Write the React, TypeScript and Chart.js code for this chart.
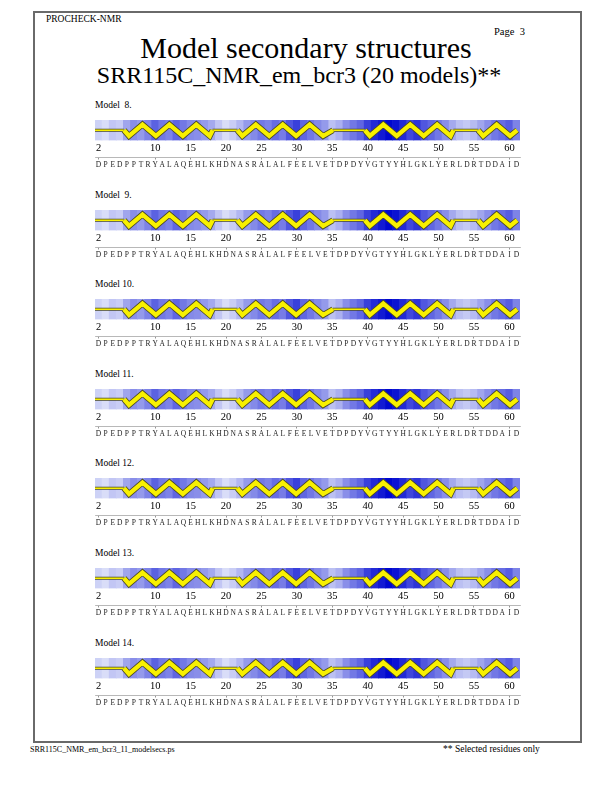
import React, { useEffect, useRef } from "react";
import { Chart, registerables } from "chart.js";

Chart.register(...registerables);

// ---------- data ----------
const modelNumbers = [8, 9, 10, 11, 12, 13, 14];
const firstResidue = 2;
const sequence = "DPEDPPTRYALAQEHLKHDNASRALALFEELVETDPDYVGTYYHLGKLYERLDRTDDAID".split("");
// per-residue shading (0 = light, 1 = dark blue), residues 2..61
const shading = [
  0.10, 0.05, 0.15, 0.12, 0.30, 0.40, 0.35, 0.45, 0.60, 0.50,
  0.45, 0.58, 0.50, 0.42, 0.40, 0.35, 0.28, 0.15, 0.05, 0.12,
  0.22, 0.35, 0.42, 0.50, 0.45, 0.55, 0.48, 0.65, 0.75, 0.58,
  0.50, 0.42, 0.35, 0.18, 0.25, 0.40, 0.50, 0.58, 0.75, 0.85,
  0.92, 1.00, 0.95, 0.85, 0.72, 0.80, 0.65, 0.58, 0.50, 0.40,
  0.28, 0.18, 0.14, 0.20, 0.30, 0.40, 0.50, 0.55, 0.62, 0.45,
];
// helix segments (residue numbers)
const helixStart = [6, 22, 40, 56];
const helixEnd = [18, 35, 52, 61];
const tickLabels = [2, 10, 15, 20, 25, 30, 35, 40, 45, 50, 55, 60];

// ---------- styling constants ----------
const SERIF = "'Liberation Serif', 'Times New Roman', serif";
const STRIP_TOP0 = 120;
const MODEL_STEP = 89.6;
const MID = 0.5, LOW = 0.22, HIGH = 0.78;
const LEAD = 0.7, HALF_TURN = 1.9;
const YELLOW = "#f8f000";
const OUTLINE = "#4a4a26";

const residues = sequence.map((_, i) => firstResidue + i);
const xMin = firstResidue - 0.5;
const xMax = firstResidue + sequence.length - 0.5;

function shadeColor(v: number) {
  const r = Math.round(228 - 228 * v);
  const g = Math.round(232 - 224 * v);
  const b = Math.round(250 - 42 * v);
  return `rgb(${r},${g},${b})`;
}

type Pt = { x: number; y: number | null };

function helixPoints(): Pt[] {
  const pts: Pt[] = [];
  helixStart.forEach((s, k) => {
    const a = s - 0.4;
    const b = helixEnd[k] + 0.1;
    pts.push({ x: a, y: MID });
    let x = a + LEAD;
    let low = true;
    while (x < b - 0.3) {
      pts.push({ x, y: low ? LOW : HIGH });
      low = !low;
      x += HALF_TURN;
    }
    pts.push({ x: b, y: MID });
    pts.push({ x: b + 0.01, y: null });
  });
  return pts;
}

function coilPoints(): Pt[] {
  const pts: Pt[] = [];
  let from = xMin;
  helixStart.forEach((s, k) => {
    const to = s - 0.4;
    if (to - from > 0.3) {
      pts.push({ x: from, y: MID }, { x: to, y: MID }, { x: to + 0.01, y: null });
    }
    from = helixEnd[k] + 0.1;
  });
  if (xMax - from > 0.5) pts.push({ x: from, y: MID }, { x: xMax, y: MID });
  return pts;
}

function lineDs(data: Pt[], color: string, width: number, order: number) {
  return {
    type: "line" as const,
    data,
    borderColor: color,
    borderWidth: width,
    borderJoinStyle: "miter" as const,
    borderCapStyle: "butt" as const,
    pointRadius: 0,
    tension: 0,
    fill: false,
    spanGaps: false,
    order,
    xAxisID: "x",
    yAxisID: "y",
  };
}

function ModelStrip({ top }: { top: number }) {
  const ref = useRef<HTMLCanvasElement>(null);
  useEffect(() => {
    const hp = helixPoints();
    const cp = coilPoints();
    const chart = new Chart(ref.current as HTMLCanvasElement, {
      type: "bar",
      data: {
        datasets: [
          {
            type: "bar",
            data: residues.map((r) => ({ x: r, y: 1 })),
            backgroundColor: shading.map(shadeColor),
            borderWidth: 0,
            barPercentage: 1,
            categoryPercentage: 1,
            order: 10,
            xAxisID: "x",
            yAxisID: "y",
          },
          lineDs(cp, OUTLINE, 3.0, 4),
          lineDs(cp, YELLOW, 1.5, 3),
          lineDs(hp, OUTLINE, 6, 2),
          lineDs(hp, YELLOW, 4.3, 1),
        ] as any,
      },
      options: {
        animation: false,
        responsive: true,
        maintainAspectRatio: false,
        events: [],
        layout: { padding: { left: 95, right: 92, top: 2, bottom: 0 } },
        plugins: {
          legend: { display: false },
          tooltip: { enabled: false },
          title: { display: false },
        },
        scales: {
          x: {
            type: "linear",
            position: "bottom",
            min: xMin,
            max: xMax,
            offset: false,
            weight: 0,
            bounds: "data",
            grid: { display: false, drawTicks: false, tickLength: 0, offset: false },
            border: { display: false },
            ticks: {
              autoSkip: false,
              maxRotation: 0,
              minRotation: 0,
              padding: 1,
              color: "#000",
              font: { family: SERIF, size: 10.5 },
              callback: (v: any) => String(v),
            },
            afterBuildTicks: (s: any) => {
              s.ticks = tickLabels.map((v) => ({ value: v }));
            },
            afterFit: (s: any) => {
              s.height = 16.5;
            },
          },
          xSeq: {
            type: "linear",
            position: "bottom",
            min: xMin,
            max: xMax,
            offset: false,
            weight: 1,
            bounds: "data",
            grid: {
              display: true,
              drawOnChartArea: false,
              drawTicks: true,
              tickLength: 2.5,
              lineWidth: 0.7,
              offset: false,
              color: (ctx: any) =>
                ctx.tick && tickLabels.includes(ctx.tick.value) ? "#666" : "rgba(0,0,0,0)",
            },
            border: { display: true, color: "#9a9a9a", width: 0.7 },
            ticks: {
              autoSkip: false,
              maxRotation: 0,
              minRotation: 0,
              padding: 1,
              color: "#222",
              font: { family: SERIF, size: 7.5 },
              callback: (v: any) => sequence[Number(v) - firstResidue] ?? "",
            },
            afterBuildTicks: (s: any) => {
              s.ticks = residues.map((v) => ({ value: v }));
            },
            afterFit: (s: any) => {
              s.height = 12;
            },
          },
          y: { type: "linear", min: 0, max: 1, display: false },
        },
      } as any,
    });
    return () => chart.destroy();
  }, []);
  return (
    <div style={{ position: "absolute", left: 0, top, width: 612, height: 51 }}>
      <canvas ref={ref} />
    </div>
  );
}

const txt = (size: number): React.CSSProperties => ({
  position: "absolute",
  fontFamily: SERIF,
  fontSize: size,
  lineHeight: `${size}px`,
  whiteSpace: "pre",
  color: "#000",
  margin: 0,
});

export default function App() {
  return (
    <div style={{ position: "absolute", left: 0, top: 0, width: 612, height: 792, background: "#fff" }}>
      <div
        style={{
          position: "absolute",
          left: 33,
          top: 11,
          width: 549,
          height: 732,
          border: "2px solid #6a6a6a",
          boxSizing: "border-box",
        }}
      />
      <div style={{ ...txt(9.5), left: 46, top: 15 }}>PROCHECK-NMR</div>
      <div style={{ ...txt(10.5), left: 494, top: 27 }}>Page  3</div>
      <div style={{ ...txt(30), left: 0, width: 612, textAlign: "center", top: 33 }}>
        Model secondary structures
      </div>
      <div style={{ ...txt(24), left: 0, width: 598, textAlign: "center", top: 62.5 }}>
        SRR115C_NMR_em_bcr3 (20 models)**
      </div>
      {modelNumbers.map((m, i) => {
        const stripTop = STRIP_TOP0 + i * MODEL_STEP;
        return (
          <React.Fragment key={m}>
            <div style={{ ...txt(9.5), left: 95, top: stripTop - 19 }}>
              {`Model ${String(m).padStart(2, " ")}.`}
            </div>
            <ModelStrip top={stripTop - 2} />
          </React.Fragment>
        );
      })}
      <div style={{ ...txt(8), left: 30, top: 746 }}>SRR115C_NMR_em_bcr3_11_modelsecs.ps</div>
      <div style={{ ...txt(9.5), left: 443, top: 745 }}>** Selected residues only</div>
    </div>
  );
}
